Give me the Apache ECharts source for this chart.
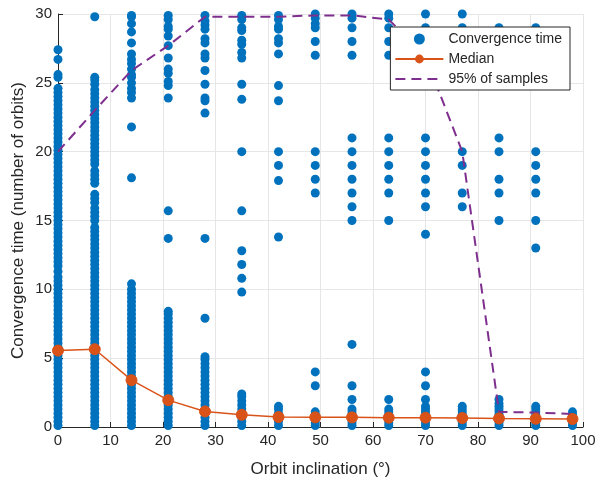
<!DOCTYPE html>
<html>
<head>
<meta charset="utf-8">
<script src="https://cdn.jsdelivr.net/npm/echarts@6/dist/echarts.min.js"></script>
<style>html,body{margin:0;padding:0;background:#fff}#c{width:598px;height:480px}</style>
</head>
<body>
<div id="c"></div>
<script>
// Orbit inclinations (x positions of sample columns)
var inclinations = [0, 7, 14, 21, 28, 35, 42, 49, 56, 63, 70, 77, 84, 91, 98];

// Convergence time samples per inclination column (number of orbits)
var samples0 = [0.1,0.4,0.7,1,1.3,1.6,1.9,2.2,2.5,2.8,3.1,3.4,3.7,4,4.3,4.6,4.9,5.2,5.5,5.8,6.1,6.4,6.7,7,7.3,7.6,7.9,8.2,8.5,8.8,9.1,9.4,9.7,10,10.3,10.6,10.9,11.3,11.7,12,12.3,12.6,12.9,13.2,13.5,13.8,14.1,14.4,14.7,15,15.3,15.6,15.9,16.2,16.5,16.8,17.1,17.4,17.7,18,18.3,18.6,18.9,19.2,19.5,19.8,20.1,20.4,20.7,21,21.3,21.6,21.9,22.2,22.5,22.8,23.1,23.4,23.7,24,24.3,24.6,25.4,25.6,26.7,27.4];
var samples7 = [0.1,0.4,0.7,1,1.3,1.6,1.9,2.2,2.5,2.8,3.1,3.4,3.7,4,4.3,4.6,4.9,5.2,5.5,5.8,6.1,6.4,6.7,7,7.3,7.6,7.9,8.2,8.5,8.8,9.1,9.4,9.7,10,10.3,10.6,10.9,11.2,11.5,11.8,12.1,12.4,12.7,13,13.3,13.6,13.9,14.2,14.5,15,15.3,15.6,15.9,16.3,16.6,16.9,17.7,18,18.3,18.6,19.1,19.4,19.7,20,20.3,20.6,20.9,21.2,21.5,21.8,22.1,22.4,22.7,23,23.3,23.6,23.9,24.2,24.5,24.9,25.2,25.4,29.8];
var samples14 = [0.1,0.4,0.7,1,1.3,1.6,1.9,2.2,2.5,2.8,3.1,3.4,3.7,4,4.3,4.6,4.9,5.2,5.5,5.8,6.1,6.4,6.7,7,7.3,7.6,7.9,8.2,8.5,8.8,9.1,9.4,9.7,10,10.4,18.1,21.8,23.9,24.3,24.6,25,25.4,25.6,26,26.4,26.7,27.1,27.9,28.7,29.3,29.8,29.9];
var samples21 = [0.1,0.4,0.7,1,1.3,1.6,1.9,2.2,2.5,2.8,3.1,3.4,3.7,4,4.3,4.6,4.9,5.2,5.5,5.8,6.1,6.4,6.7,7,7.3,7.6,7.9,8.2,8.4,13.7,15.7,23.9,24.8,25.1,25.7,26,26.8,27.7,28.4,28.9,29.1,29.6,29.9];
var samples28 = [0.1,0.4,0.7,1,1.3,1.6,1.9,2.2,2.5,2.8,3.1,3.4,3.7,4,4.3,4.6,4.9,5.1,7.9,13.7,22.8,23.7,23.9,24.9,25.9,26.8,27.1,27.9,28.2,28.9,29.2,29.5,29.9];
var samples35 = [0.1,0.4,0.7,1,1.3,1.6,1.9,2.2,2.4,9.8,10.8,11.8,12.8,15.7,20,23.8,24.9,26.8,27.2,27.8,28.1,28.8,29,29.6,29.9];
var samples42 = [0.1,0.4,0.7,1,1.3,1.5,13.8,17.9,19,20,23.7,24.8,27.1,27.9,28.2,28.9,29.1,29.6,29.9];
var samples49 = [0.1,0.3,0.5,0.7,0.9,1.1,3,4,17,18,19,20,27,28,29,29.3,29.7,30];
var samples56 = [0.1,0.3,0.5,0.7,0.9,1.1,1.3,2,3,6,15,16,17,18,19,20,21,27,28,29,29.7,30];
var samples63 = [0.1,0.3,0.5,0.7,0.9,1.1,1.3,2,15,17,18,19,20,21,27,28,29,29.7,30];
var samples70 = [0.1,0.3,0.5,0.7,0.9,1.1,1.3,1.5,2,3,4,14,16,17,18,19,20,21,27,28,29,30];
var samples77 = [0.1,0.3,0.5,0.7,0.9,1.1,1.3,1.5,16,17,19,20,27,28,29,30];
var samples84 = [0.1,0.3,0.5,0.7,0.9,1.1,1.3,1.5,1.7,2,15,17,18,20,21,29];
var samples91 = [0.1,0.3,0.5,0.7,0.9,1.1,1.3,1.5,13,15,17,18,19,20,29];
var samples98 = [0.1,0.3,0.5,0.7,0.9,1.1];

// Median convergence time per inclination
var medianValues = [5.55, 5.65, 3.4, 1.95, 1.13, 0.89, 0.72, 0.7, 0.7, 0.68, 0.68, 0.65, 0.62, 0.6, 0.58];
// 95th percentile convergence time per inclination
var p95Values = [20, 23, 25.9, 27.7, 29.8, 29.8, 29.8, 29.9, 29.9, 29.6, 26.9, 20, 1.1, 1.05, 0.95];

// Axis ticks
var xTicks = {min: 0, max: 100, interval: 10};
var yTicks = {min: 0, max: 30, interval: 5};

var allSamples = [samples0, samples7, samples14, samples21, samples28, samples35, samples42, samples49, samples56, samples63, samples70, samples77, samples84, samples91, samples98];
var scatterData = [];
for (var i = 0; i < inclinations.length; i++) {
  for (var j = 0; j < allSamples[i].length; j++) scatterData.push([inclinations[i], allSamples[i][j]]);
}
var medianData = inclinations.map(function (x, i) { return [x, medianValues[i]]; });
var p95Data = inclinations.map(function (x, i) { return [x, p95Values[i]]; });

var txt = '#262626';
var font = 'Liberation Sans, Arial, Helvetica, sans-serif';
var chart = echarts.init(document.getElementById('c'), null, {renderer: 'canvas'});
chart.setOption({
  animation: false,
  backgroundColor: '#ffffff',
  textStyle: {fontFamily: font},
  grid: {left: 58, right: 15, top: 14, bottom: 53, containLabel: false, outerBoundsMode: 'none'},
  xAxis: {
    type: 'value', min: xTicks.min, max: xTicks.max, interval: xTicks.interval,
    name: 'Orbit inclination (°)', nameLocation: 'middle', nameGap: 34, nameMoveOverlap: false,
    nameTextStyle: {color: txt, fontSize: 17, fontFamily: font},
    axisLine: {show: true, onZero: false, lineStyle: {color: txt, width: 1}},
    axisTick: {show: true, inside: true, length: 5, lineStyle: {color: txt}},
    axisLabel: {color: txt, fontSize: 15, margin: 6, fontFamily: font},
    splitLine: {show: true, lineStyle: {color: '#e6e6e6', width: 1}}
  },
  yAxis: {
    type: 'value', min: yTicks.min, max: yTicks.max, interval: yTicks.interval,
    name: 'Convergence time (number of orbits)', nameLocation: 'middle', nameGap: 31, nameMoveOverlap: false,
    nameTextStyle: {color: txt, fontSize: 17, fontFamily: font},
    axisLine: {show: true, onZero: false, lineStyle: {color: txt, width: 1}},
    axisTick: {show: true, inside: true, length: 5, lineStyle: {color: txt}},
    axisLabel: {color: txt, fontSize: 15, margin: 6, fontFamily: font},
    splitLine: {show: true, lineStyle: {color: '#e6e6e6', width: 1}}
  },
  legend: {
    show: true, orient: 'vertical', right: 28, top: 27,
    backgroundColor: '#ffffff', borderColor: txt, borderWidth: 1, borderRadius: 0,
    padding: [3, 8, 2, 4], itemGap: 2, itemWidth: 48, itemHeight: 11,
    textStyle: {color: txt, fontSize: 14, fontFamily: font, lineHeight: 18},
    data: [
      {name: 'Convergence time', icon: 'circle', itemStyle: {opacity: 1}},
      {name: 'Median'},
      {name: '95% of samples', itemStyle: {opacity: 0}}
    ]
  },
  series: [
    {
      name: 'Convergence time', type: 'scatter', data: scatterData, symbol: 'circle', symbolSize: 9,
      itemStyle: {color: '#0072BD', opacity: 1}, z: 2
    },
    {
      name: 'Median', type: 'line', data: medianData, symbol: 'circle', symbolSize: 11, showSymbol: true,
      lineStyle: {color: '#D95319', width: 1.5}, itemStyle: {color: '#D95319', borderColor: '#D95319', opacity: 1}, z: 4
    },
    {
      name: '95% of samples', type: 'line', data: p95Data, symbol: 'none',
      lineStyle: {color: '#7E2F8E', width: 2, type: [10, 6]}, itemStyle: {color: '#7E2F8E'}, z: 3
    }
  ]
});
</script>
</body>
</html>
